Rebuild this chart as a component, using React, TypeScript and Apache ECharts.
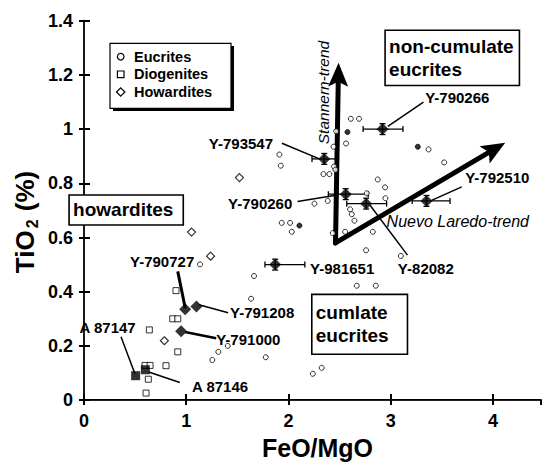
import React, { useEffect, useRef } from 'react';
import * as echarts from 'echarts';

const FONT = '"Liberation Sans", Arial, Helvetica, sans-serif';

// ---- data (FeO/MgO, TiO2 %) ----
const eucrites: number[][] = [
  [1.911, 0.906], [1.925, 0.865], [2.61, 1.038], [2.69, 1.038], [2.466, 0.992], [2.563, 0.947],
  [2.44, 0.935], [2.446, 0.862], [2.459, 0.85], [2.342, 0.834], [2.40, 0.834], [3.37, 0.925],
  [3.523, 0.877], [2.873, 0.814], [2.945, 0.785], [2.766, 0.763], [2.948, 0.745], [2.254, 0.725],
  [2.384, 0.735], [2.603, 0.704], [2.619, 0.686], [2.645, 0.662], [1.934, 0.654], [2.016, 0.654],
  [2.032, 0.621], [2.433, 0.616], [2.554, 0.621], [2.825, 0.621], [2.759, 0.553], [3.099, 0.532],
  [1.663, 0.458], [2.668, 0.422], [2.854, 0.422], [1.135, 0.501], [1.634, 0.374], [1.406, 0.20],
  [1.314, 0.178], [1.255, 0.148], [1.778, 0.158], [2.238, 0.097], [2.325, 0.119],
];
const eucritesFilled: number[][] = [[2.577, 0.989], [3.265, 0.935], [2.107, 0.644]];
const diogenites: number[][] = [
  [0.90, 0.404], [0.868, 0.30], [0.917, 0.30], [0.639, 0.259], [0.802, 0.127], [0.597, 0.128],
  [0.646, 0.128], [0.629, 0.077], [0.607, 0.026], [0.917, 0.178],
];
const howardites: number[][] = [[1.52, 0.821], [1.052, 0.62], [1.238, 0.531], [0.786, 0.219]];

// named samples: x, y
const sampleNames = ['Y-790266', 'Y-793547', 'Y-790260', 'Y-82082', 'Y-792510', 'Y-981651', 'Y-790727', 'Y-791208', 'Y-791000'];
const samplePoints: number[][] = [
  [2.92, 1.0], [2.35, 0.89], [2.56, 0.76], [2.76, 0.725], [3.35, 0.735], [1.87, 0.5],
  [0.99, 0.335], [1.10, 0.345], [0.95, 0.254],
];
// error bars: x, y, xLow, xHigh, yErr
const errorBars: number[][] = [
  [2.92, 1.0, 2.73, 3.12, 0.02], [2.35, 0.89, 2.23, 2.47, 0.02], [2.56, 0.76, 2.39, 2.78, 0.02],
  [2.76, 0.725, 2.57, 2.96, 0.02], [3.35, 0.735, 3.21, 3.58, 0.02], [1.87, 0.5, 1.77, 2.16, 0.02],
];
const antarcticNames = ['A 87147', 'A 87146'];
const antarcticPoints: number[][] = [[0.505, 0.09], [0.60, 0.112]];

// label texts and anchor positions
const labelTexts = ['Y-790266', 'Y-793547', 'Y-790260', 'Y-82082', 'Y-792510', 'Y-981651', 'Y-790727', 'Y-791208', 'Y-791000', 'A 87147', 'A 87146'];
const labelPos: number[][] = [
  [3.337, 1.115], [1.849, 0.948], [2.037, 0.727], [3.07, 0.487], [3.728, 0.82], [2.211, 0.487],
  [0.45, 0.513], [1.428, 0.322], [1.293, 0.222], [-0.044, 0.269], [1.056, 0.051],
];
const labelAlign = ['left', 'right', 'right', 'left', 'left', 'left', 'left', 'left', 'left', 'left', 'left'];

// leader lines x1, y1, x2, y2, width
const leaders: number[][] = [
  [3.32, 1.0995, 2.972, 1.01, 1.5], [1.936, 0.948, 2.308, 0.889, 1.5], [2.088, 0.733, 2.478, 0.757, 1.5],
  [2.798, 0.719, 3.164, 0.535, 1.5], [3.695, 0.787, 3.40, 0.737, 1.5], [0.917, 0.475, 0.99, 0.34, 3],
  [1.124, 0.352, 1.41, 0.322, 1.5], [0.988, 0.251, 1.293, 0.228, 2.5], [0.362, 0.234, 0.497, 0.098, 1.5],
  [0.937, 0.065, 0.633, 0.104, 1.5],
];

// trend arrows x1, y1, x2, y2
const trends: number[][] = [[2.46, 0.58, 2.49, 1.245], [2.46, 0.58, 4.12, 0.95]];
const trendNames = ['Stannern-trend', 'Nuevo Laredo-trend'];
const trendLabelPos: number[][] = [[2.342, 1.135], [2.96, 0.66]];

// annotation boxes x0, y0(top), x1, y1(bottom)
const boxTexts = [['howardites'], ['non-cumulate', 'eucrites'], ['cumlate', 'eucrites']];
const boxes: number[][] = [[-0.146, 0.757, 0.971, 0.646], [2.945, 1.3645, 4.259, 1.161], [2.228, 0.39, 3.164, 0.169]];

const diamondPath = 'path://M0,-1L1,0L0,1L-1,0Z';

export default function App() {
  const ref = useRef<HTMLDivElement>(null);
  useEffect(() => {
    if (!ref.current) return;
    const chart = echarts.init(ref.current, null, { renderer: 'svg' });
    const axisFont = { fontFamily: FONT, fontWeight: 'bold' as const, fontSize: 18, color: '#000' };
    const option: any = {
      animation: false,
      backgroundColor: '#fff',
      grid: { left: 84, right: 2, top: 20.7, bottom: 51.7 },
      xAxis: [
        {
          type: 'value', min: 0, max: 4.47, interval: 1, position: 'bottom',
          axisLine: { lineStyle: { color: '#000', width: 2 } },
          axisTick: { inside: true, length: 6, lineStyle: { color: '#000', width: 2 } },
          axisLabel: { ...axisFont, margin: 12, showMaxLabel: false },
          splitLine: { show: false },
          name: 'FeO/MgO', nameLocation: 'middle', nameGap: 29,
          nameTextStyle: { fontFamily: FONT, fontWeight: 'bold', fontSize: 25, color: '#000', padding: [0, 0, 0, 10] },
        },
        {
          type: 'value', min: 0, max: 4.47, interval: 1, position: 'top',
          axisLine: { lineStyle: { color: '#222', width: 1 } },
          axisTick: { inside: true, length: 5, lineStyle: { color: '#000', width: 2 } },
          axisLabel: { show: false }, splitLine: { show: false },
        },
      ],
      yAxis: [
        {
          type: 'value', min: 0, max: 1.4, interval: 0.2, position: 'left',
          axisLine: { lineStyle: { color: '#000', width: 2 } },
          axisTick: { inside: true, length: 6, lineStyle: { color: '#000', width: 2 } },
          axisLabel: { ...axisFont, margin: 11 },
          splitLine: { show: false },
        },
        {
          type: 'value', min: 0, max: 1.4, interval: 0.2, position: 'right',
          axisLine: { lineStyle: { color: '#222', width: 1.5 } },
          axisTick: { inside: true, length: 5, lineStyle: { color: '#000', width: 2 } },
          axisLabel: { show: false }, splitLine: { show: false },
        },
      ],
      series: [
        {
          type: 'custom', name: 'trends', data: trends, z: 3,
          renderItem: (_p: any, api: any) => {
            const a = api.coord([api.value(0), api.value(1)]);
            const b = api.coord([api.value(2), api.value(3)]);
            const dx = b[0] - a[0], dy = b[1] - a[1];
            const len = Math.hypot(dx, dy);
            const ux = dx / len, uy = dy / len;
            const head = 24, hw = 10;
            const base = [b[0] - ux * head, b[1] - uy * head];
            const notch = [b[0] - ux * (head - 5), b[1] - uy * (head - 5)];
            const px = -uy, py = ux;
            return {
              type: 'group', children: [
                { type: 'line', shape: { x1: a[0], y1: a[1], x2: notch[0], y2: notch[1] }, style: { stroke: '#000', lineWidth: 5, lineCap: 'round' } },
                { type: 'polygon', shape: { points: [b, [base[0] + px * hw, base[1] + py * hw], notch, [base[0] - px * hw, base[1] - py * hw]] }, style: { fill: '#000' } },
              ],
            };
          },
        },
        {
          type: 'custom', name: 'leaders', data: leaders, z: 3,
          renderItem: (_p: any, api: any) => {
            const a = api.coord([api.value(0), api.value(1)]);
            const b = api.coord([api.value(2), api.value(3)]);
            return { type: 'line', shape: { x1: a[0], y1: a[1], x2: b[0], y2: b[1] }, style: { stroke: '#000', lineWidth: api.value(4) } };
          },
        },
        {
          type: 'custom', name: 'errors', data: errorBars, z: 4,
          renderItem: (_p: any, api: any) => {
            const y = api.value(1);
            const l = api.coord([api.value(2), y]);
            const r = api.coord([api.value(3), y]);
            const t = api.coord([api.value(0), y + api.value(4)]);
            const bt = api.coord([api.value(0), y - api.value(4)]);
            const st = { stroke: '#000', lineWidth: 1.3 };
            return {
              type: 'group', children: [
                { type: 'line', shape: { x1: l[0], y1: l[1], x2: r[0], y2: r[1] }, style: st },
                { type: 'line', shape: { x1: l[0], y1: l[1] - 3, x2: l[0], y2: l[1] + 3 }, style: st },
                { type: 'line', shape: { x1: r[0], y1: r[1] - 3, x2: r[0], y2: r[1] + 3 }, style: st },
                { type: 'line', shape: { x1: t[0], y1: t[1], x2: bt[0], y2: bt[1] }, style: st },
                { type: 'line', shape: { x1: t[0] - 3, y1: t[1], x2: t[0] + 3, y2: t[1] }, style: st },
                { type: 'line', shape: { x1: bt[0] - 3, y1: bt[1], x2: bt[0] + 3, y2: bt[1] }, style: st },
              ],
            };
          },
        },
        {
          type: 'scatter', name: 'Eucrites', data: eucrites, symbol: 'circle', symbolSize: 5, z: 5,
          itemStyle: { color: '#fff', borderColor: '#000', borderWidth: 1 },
        },
        {
          type: 'scatter', name: 'Eucrites (filled)', data: eucritesFilled, symbol: 'circle', symbolSize: 5, z: 5,
          itemStyle: { color: '#000', borderColor: '#000', borderWidth: 1 },
        },
        {
          type: 'scatter', name: 'Diogenites', data: diogenites, symbol: 'rect', symbolSize: 6, z: 5,
          itemStyle: { color: '#fff', borderColor: '#000', borderWidth: 1 },
        },
        {
          type: 'scatter', name: 'Howardites', data: howardites, symbol: diamondPath, symbolSize: 8, z: 5,
          itemStyle: { color: '#fff', borderColor: '#000', borderWidth: 1.2 },
        },
        {
          type: 'scatter', name: 'samples', data: samplePoints.map((p, i) => ({ value: p, name: sampleNames[i] })),
          symbol: diamondPath, symbolSize: 12, z: 6, itemStyle: { color: '#000' },
        },
        {
          type: 'scatter', name: 'antarctic', data: antarcticPoints.map((p, i) => ({ value: p, name: antarcticNames[i] })),
          symbol: 'rect', symbolSize: 9, z: 6, itemStyle: { color: '#000' },
        },
        {
          type: 'custom', name: 'labels', z: 7,
          data: labelPos.map((p, i) => [p[0], p[1], i]),
          renderItem: (_p: any, api: any) => {
            const i = api.value(2);
            const p = api.coord([api.value(0), api.value(1)]);
            return {
              type: 'text', x: p[0], y: p[1],
              style: { text: labelTexts[i], fill: '#000', fontFamily: FONT, fontWeight: 'bold', fontSize: 15, align: labelAlign[i], verticalAlign: 'middle' },
            };
          },
        },
        {
          type: 'custom', name: 'trendLabels', z: 7,
          data: trendLabelPos.map((p, i) => [p[0], p[1], i]),
          renderItem: (_p: any, api: any) => {
            const i = api.value(2);
            const p = api.coord([api.value(0), api.value(1)]);
            return {
              type: 'text', x: p[0], y: p[1], rotation: i === 0 ? Math.PI / 2 : 0,
              style: { text: trendNames[i], fill: '#000', fontFamily: FONT, fontStyle: 'italic', fontSize: i === 0 ? 15.5 : 16, align: i === 0 ? 'center' : 'left', verticalAlign: 'middle' },
            };
          },
        },
        {
          type: 'custom', name: 'boxes', z: 8,
          data: boxes.map((b, i) => [b[0], b[1], b[2], b[3], i]),
          renderItem: (_p: any, api: any) => {
            const i = api.value(4);
            const a = api.coord([api.value(0), api.value(1)]);
            const b = api.coord([api.value(2), api.value(3)]);
            return {
              type: 'group', children: [
                { type: 'rect', shape: { x: a[0], y: a[1], width: b[0] - a[0], height: b[1] - a[1] }, style: { fill: '#fff', stroke: '#000', lineWidth: 1.6 } },
                {
                  type: 'text', x: a[0] + 4, y: (a[1] + b[1]) / 2,
                  style: { text: boxTexts[i].join('\n'), fill: '#000', fontFamily: FONT, fontWeight: 'bold', fontSize: 19, lineHeight: 23, align: 'left', verticalAlign: 'middle' },
                },
              ],
            };
          },
        },
      ],
      graphic: [
        { type: 'rect', shape: { x: 113, y: 46, width: 121, height: 65 }, style: { fill: '#000' }, z: 100 },
        { type: 'rect', shape: { x: 110, y: 43.3, width: 121, height: 65 }, style: { fill: '#fff', stroke: '#000', lineWidth: 1.2 }, z: 101 },
        { type: 'circle', shape: { cx: 120.7, cy: 56.7, r: 3.3 }, style: { fill: '#fff', stroke: '#000', lineWidth: 1.2 }, z: 102 },
        { type: 'rect', shape: { x: 117.4, y: 71, width: 6.6, height: 6.6 }, style: { fill: '#fff', stroke: '#000', lineWidth: 1.2 }, z: 102 },
        { type: 'polygon', shape: { points: [[120.7, 87.8], [124.9, 92], [120.7, 96.2], [116.5, 92]] }, style: { fill: '#fff', stroke: '#000', lineWidth: 1.2 }, z: 102 },
        { type: 'text', x: 134, y: 56.7, style: { text: 'Eucrites', fontFamily: FONT, fontWeight: 'bold', fontSize: 14.5, fill: '#000', verticalAlign: 'middle' }, z: 102 },
        { type: 'text', x: 134, y: 74.3, style: { text: 'Diogenites', fontFamily: FONT, fontWeight: 'bold', fontSize: 14.5, fill: '#000', verticalAlign: 'middle' }, z: 102 },
        { type: 'text', x: 134, y: 92, style: { text: 'Howardites', fontFamily: FONT, fontWeight: 'bold', fontSize: 14.5, fill: '#000', verticalAlign: 'middle' }, z: 102 },
        {
          type: 'text', x: 25, y: 222, rotation: Math.PI / 2, z: 102,
          style: {
            text: '{a|TiO}{s|2}{a| (%)}', fill: '#000', align: 'center', verticalAlign: 'middle',
            rich: {
              a: { fontFamily: FONT, fontWeight: 'bold', fontSize: 26, fill: '#000' },
              s: { fontFamily: FONT, fontWeight: 'bold', fontSize: 16, fill: '#000', verticalAlign: 'bottom', padding: [14, 1, 0, 2] },
            },
          },
        },
      ],
    };
    chart.setOption(option);
    return () => chart.dispose();
  }, []);
  return <div ref={ref} style={{ position: 'fixed', left: 0, top: 0, width: 543, height: 465, background: '#fff' }} />;
}
